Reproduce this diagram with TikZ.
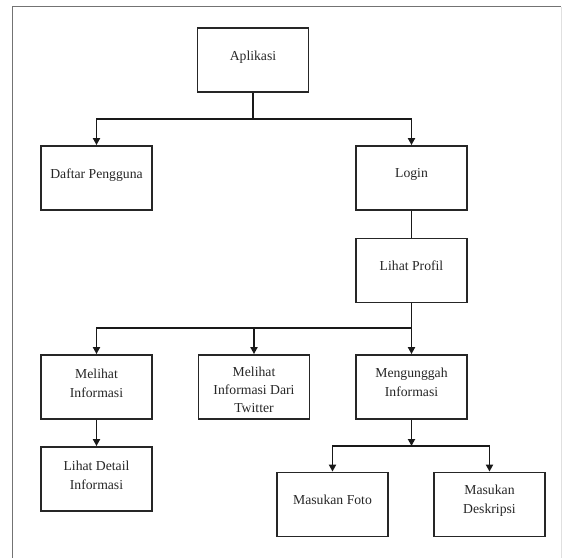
\documentclass[tikz,border=0pt]{standalone}
\usepackage{fontspec}
\setmainfont{Liberation Serif}
\usetikzlibrary{arrows.meta,calc}
\begin{document}
\begin{tikzpicture}[x=1pt,y=-1pt,
  box/.style={draw=black!85,line width=1.8pt,minimum width=111pt,minimum height=64pt,inner sep=0pt},
  txt/.style={anchor=north,align=center,inner sep=0pt,text=black!85,font=\fontsize{13.7}{19}\selectfont},
  txtthree/.style={txt,font=\fontsize{13.7}{18}\selectfont},
  conn/.style={draw=black!90,line width=1.8pt},
  arr/.style={conn,-{Triangle[length=7pt,width=7pt]}},
  framel/.style={draw=black!55,line width=1.3pt},
  framer/.style={draw=black!12,line width=1pt}]
\useasboundingbox (0,0) rectangle (565,558);
% frame
\coordinate (fbl) at (12.7,558);
\coordinate (ftl) at (12.7,6.5);
\coordinate (ftr) at (561,6.5);
\coordinate (fbr) at (561,558);
\draw[framel] (fbl) -- (ftl) -- (ftr);
\draw[framer] (ftr) -- (fbr);
% boxes
\node[box] (apl) at (253,60) {};
\node[box] (daf) at (96.5,178) {};
\node[box] (log) at (411.5,178) {};
\node[box] (lp) at (411.5,270.5) {};
\node[box] (mi) at (96.5,387) {};
\node[box] (mt) at (254,387) {};
\node[box] (mu) at (411.5,387) {};
\node[box] (ld) at (96.5,479) {};
\node[box] (mf) at (332.5,504.5) {};
\node[box] (md) at (489.5,504.5) {};
% texts
\node[txt] (tapl) at ($(apl.center)+(0,-9.4)$) {Aplikasi};
\node[txt] (tdaf) at ($(daf.center)+(0,-9.4)$) {Daftar Pengguna};
\node[txt] (tlog) at ($(log.center)+(0,-9.4)$) {Login};
\node[txt] (tlp) at ($(lp.center)+(0,-9.4)$) {Lihat Profil};
\node[txt] (tmi) at ($(mi.center)+(0,-18.7)$) {Melihat\\Informasi};
\node[txtthree] (tmt) at ($(mt.center)+(0,-20.7)$) {Melihat\\Informasi Dari\\Twitter};
\node[txt] (tmu) at ($(mu.center)+(0,-18.9)$) {Mengunggah\\Informasi};
\node[txt] (tld) at ($(ld.center)+(0,-18.4)$) {Lihat Detail\\Informasi};
\node[txt] (tmf) at ($(mf.center)+(0,-9.4)$) {Masukan Foto};
\node[txt] (tmd) at ($(md.center)+(0,-19.4)$) {Masukan\\Deskripsi};
% connectors
\coordinate (j1) at (253,119);
\draw[conn] (apl.south) -- (j1);
\draw[arr] (j1) -| (daf.north);
\draw[arr] (j1) -| (log.north);
\draw[conn] (log.south) -- (lp.north);
\coordinate (j2) at (411.5,328);
\draw[conn] (lp.south) -- (j2);
\draw[arr] (j2) -| (mi.north);
\draw[arr] (j2) -| (mt.north);
\draw[arr] (j2) -- (mu.north);
\draw[arr] (mi.south) -- (ld.north);
\coordinate (j3) at (411.5,446);
\draw[arr] (mu.south) -- (j3);
\draw[arr] (j3) -| (mf.north);
\draw[arr] (j3) -| (md.north);
\end{tikzpicture}
\end{document}
